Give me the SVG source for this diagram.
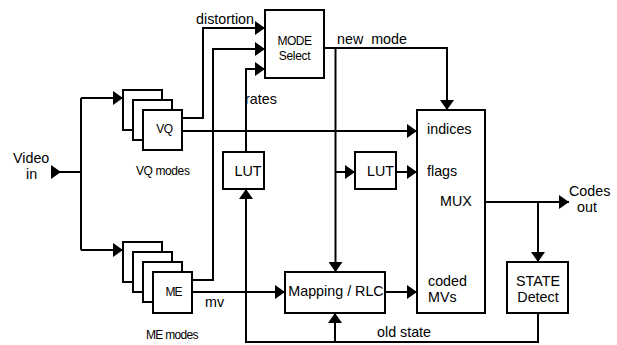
<svg xmlns="http://www.w3.org/2000/svg" width="617" height="345" viewBox="0 0 617 345">
<defs>
<style>
.box{fill:#fff;stroke:#000;stroke-width:2}
.ln{fill:none;stroke:#000;stroke-width:2}
.ar{marker-end:url(#ah)}
text{font-family:"Liberation Sans",Arial,sans-serif;font-size:14.3px;fill:#000}
.sm{font-size:12px}
.mid{text-anchor:middle}
</style>
<marker id="ah" markerUnits="userSpaceOnUse" markerWidth="10" markerHeight="14" refX="10" refY="7" orient="auto">
<path d="M0,0 L10,7 L0,14 z" fill="#000"/>
</marker>
</defs>
<rect width="617" height="345" fill="#fff"/>

<g id="connectors">
<path class="ln ar" d="M52,172 H61"/>
<path class="ln" d="M61,172 H81"/>
<path class="ln" d="M81,98 V250"/>
<path class="ln ar" d="M81,98 H123"/>
<path class="ln ar" d="M81,250 H123"/>
<path class="ln ar" d="M182,118 H203 V28 H265"/>
<path class="ln ar" d="M192,280 H213 V49 H265"/>
<path class="ln ar" d="M246,152 V69 H265"/>
<path class="ln ar" d="M246,342 V189"/>
<path class="ln" d="M538,313 V342 H245"/>
<path class="ln ar" d="M335,342 V313"/>
<path class="ln ar" d="M324,48 H447 V110"/>
<path class="ln ar" d="M335.5,48 V272"/>
<path class="ln ar" d="M335.5,172 H355"/>
<path class="ln ar" d="M396,172 H417"/>
<path class="ln ar" d="M182,131 H417"/>
<path class="ln ar" d="M192,292 H285"/>
<path class="ln ar" d="M385,292 H417"/>
<path class="ln ar" d="M485,202 H569"/>
<path class="ln ar" d="M538,202 V262"/>
</g>

<g id="mode-select">
<rect class="box" x="265" y="10" width="59" height="68"/>
<text class="sm mid" x="294.5" y="45" letter-spacing="-0.5">MODE</text>
<text class="sm mid" x="294.5" y="60" letter-spacing="-0.3">Select</text>
</g>

<g id="vq-modes">
<rect class="box" x="123" y="90" width="39" height="40"/>
<rect class="box" x="133" y="100" width="39" height="40"/>
<rect class="box" x="143" y="110" width="39" height="40"/>
<text class="sm mid" x="164.5" y="133" letter-spacing="-0.5">VQ</text>
</g>

<g id="me-modes">
<rect class="box" x="123" y="242" width="39" height="40"/>
<rect class="box" x="133" y="252" width="39" height="40"/>
<rect class="box" x="143" y="262" width="39" height="40"/>
<rect class="box" x="153" y="272" width="39" height="41"/>
<text class="sm mid" x="173.5" y="296" letter-spacing="-1">ME</text>
</g>

<g id="lut1">
<rect class="box" x="223" y="152" width="41" height="37"/>
<text class="mid" x="248" y="176">LUT</text>
</g>

<g id="lut2">
<rect class="box" x="355" y="152" width="41" height="37"/>
<text class="mid" x="380.5" y="176">LUT</text>
</g>

<g id="mux">
<rect class="box" x="417" y="110" width="68" height="203"/>
<text x="427" y="134">indices</text>
<text x="427" y="176">flags</text>
<text x="440" y="206">MUX</text>
<text x="428" y="286">coded</text>
<text x="428" y="302">MVs</text>
</g>

<g id="mapping-rlc">
<rect class="box" x="285" y="272" width="100" height="41"/>
<text class="mid" x="336" y="296">Mapping / RLC</text>
</g>

<g id="state-detect">
<rect class="box" x="507" y="262" width="61" height="51"/>
<text class="mid" x="538" y="286">STATE</text>
<text class="mid" x="538" y="302">Detect</text>
</g>

<g id="labels">
<text x="196" y="24" font-size="13">distortion</text>
<text x="337" y="44" xml:space="preserve">new  mode</text>
<text x="245" y="104">rates</text>
<text x="13" y="163" font-size="13.5">Video</text>
<text x="26" y="179" font-size="13.5">in</text>
<text class="sm" x="136" y="175" letter-spacing="-0.4">VQ modes</text>
<text class="sm" x="146" y="339" letter-spacing="-0.7">ME modes</text>
<text x="205" y="307">mv</text>
<text x="377" y="337">old state</text>
<text x="569" y="196">Codes</text>
<text x="577" y="212">out</text>
</g>
</svg>
